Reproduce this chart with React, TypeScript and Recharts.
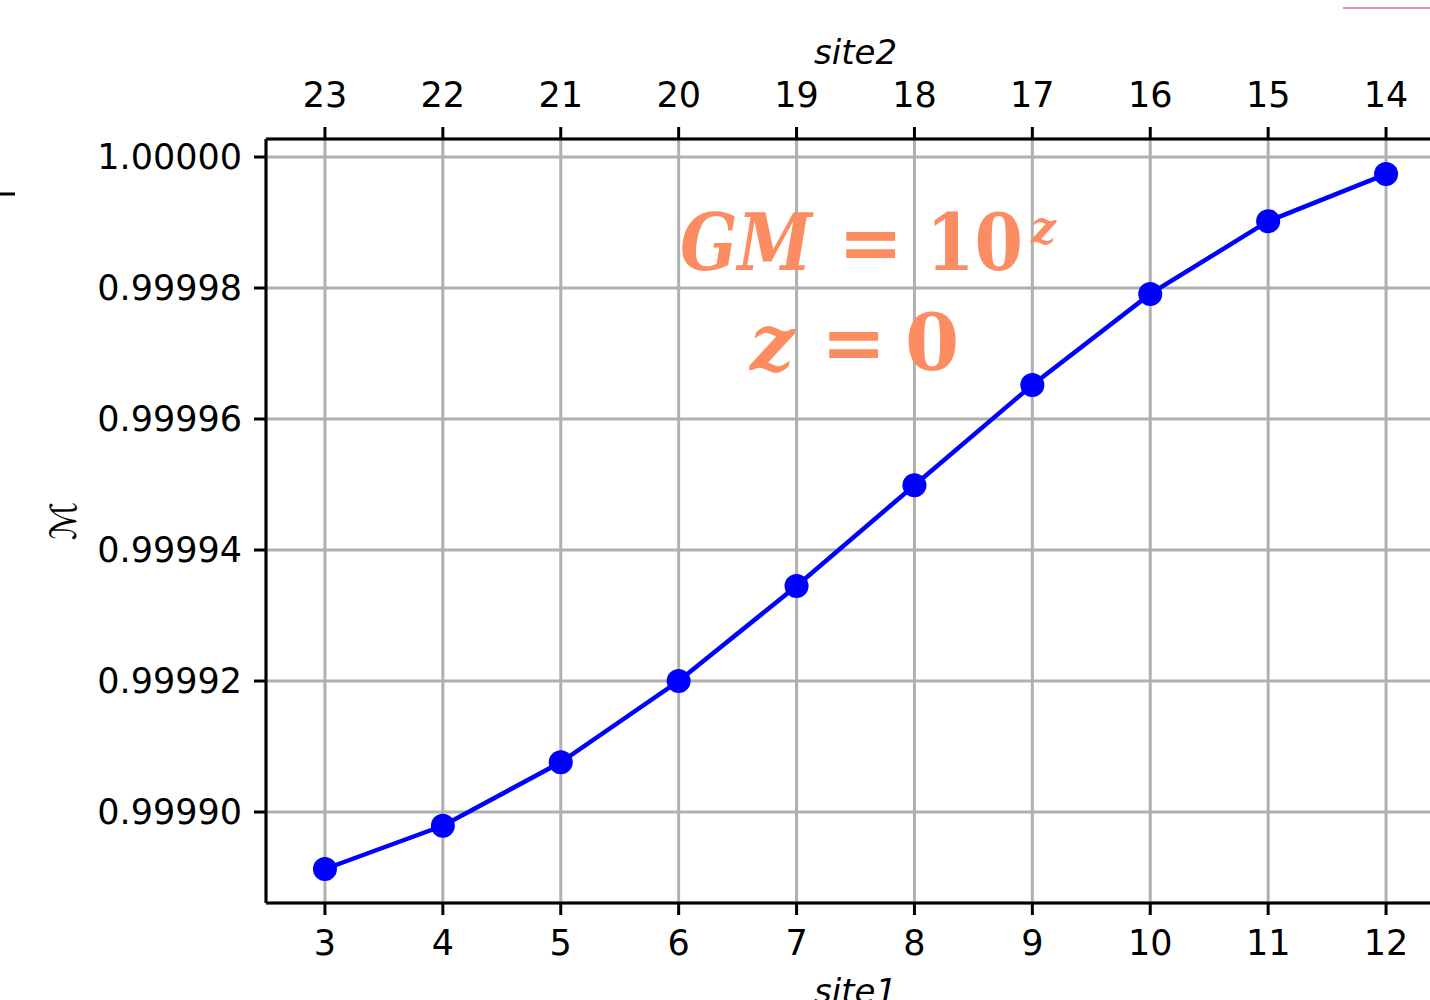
import { LineChart, Line, XAxis, YAxis, CartesianGrid } from 'recharts'

// lattice sizes on the two axes (site2 runs opposite to site1)
const site1 = [3, 4, 5, 6, 7, 8, 9, 10, 11, 12]
const site2 = [23, 22, 21, 20, 19, 18, 17, 16, 15, 14]
const mValues = [
  0.9998913, 0.9998979, 0.9999076, 0.99992, 0.9999345, 0.9999499, 0.9999652, 0.9999791, 0.9999902, 0.9999974,
]
const yTicks = [0.9999, 0.99992, 0.99994, 0.99996, 0.99998, 1.0]

const data = site1.map((s, i) => ({ site1: s, M: mValues[i] }))

const font = 'DejaVu Sans'
const tickStyle = { fontSize: 35, fill: '#000', fontFamily: font }
const titleStyle = { fontSize: 34, fontStyle: 'italic', fill: '#000', fontFamily: font }
const axisStroke = { stroke: '#000', strokeWidth: 3 }
const orange = '#fc8d62'

export default function App() {
  return (
    <div style={{ position: 'absolute', left: 0, top: 0, width: 1430, height: 1000, overflow: 'hidden', background: '#fff' }}>
      <LineChart width={1450} height={1000} data={data} margin={{ top: 0, right: 5, left: 0, bottom: 0 }}>
        <CartesianGrid xAxisId="bottom" stroke="#b0b0b0" strokeWidth={3} />
        <XAxis
          xAxisId="bottom"
          dataKey="site1"
          type="number"
          orientation="bottom"
          domain={[2.5, 12.5]}
          ticks={site1}
          height={97}
          tick={tickStyle}
          tickSize={12}
          tickMargin={15}
          axisLine={axisStroke}
          tickLine={axisStroke}
          label={{ value: 'site1', position: 'insideBottom', offset: -3, style: titleStyle }}
        />
        <XAxis
          xAxisId="top"
          dataKey="site1"
          type="number"
          orientation="top"
          domain={[2.5, 12.5]}
          ticks={site1}
          tickFormatter={(v: number) => String(site2[site1.indexOf(v)])}
          height={139}
          tick={tickStyle}
          tickSize={12}
          tickMargin={20}
          axisLine={axisStroke}
          tickLine={axisStroke}
          label={{ value: 'site2', position: 'insideTop', offset: 40, style: titleStyle }}
        />
        <YAxis
          type="number"
          domain={[0.99988611, 1.00000275]}
          allowDataOverflow
          ticks={yTicks}
          tickFormatter={(v: number) => v.toFixed(5)}
          width={266}
          tick={tickStyle}
          tickSize={12}
          tickMargin={12}
          axisLine={axisStroke}
          tickLine={axisStroke}
        />
        <Line
          xAxisId="bottom"
          dataKey="M"
          stroke="#0000ff"
          strokeWidth={4.5}
          dot={{ r: 12, fill: '#0000ff', stroke: 'none' }}
          activeDot={false}
          isAnimationActive={false}
        />
      </LineChart>
      <svg width={1430} height={1000} style={{ position: 'absolute', left: 0, top: 0, pointerEvents: 'none' }}>
        {/* y-axis title */}
        <text x={76} y={521} transform="rotate(-90 76 521)" textAnchor="middle" fontSize={36} fontFamily={font} fill="#000">
          ℳ
        </text>
        {/* annotation */}
        <g fill={orange} fontFamily="DejaVu Serif" fontWeight="bold" fontSize={78}>
          <text x={680} y={270} fontStyle="italic" textLength={132} lengthAdjust="spacingAndGlyphs">GM</text>
          <text x={838} y={270}>=</text>
          <text x={926} y={270} textLength={97} lengthAdjust="spacingAndGlyphs">10</text>
          <text x={1031} y={243} fontSize={44} fontStyle="italic">z</text>
          <text x={750} y={370} fontStyle="italic">z</text>
          <text x={821} y={370}>=</text>
          <text x={905} y={370}>0</text>
        </g>
        {/* edges of neighbouring panels */}
        <line x1={0} y1={194} x2={15} y2={194} stroke="#000" strokeWidth={3} />
        <line x1={1343} y1={8} x2={1430} y2={8} stroke="#ee8fae" strokeWidth={2} />
      </svg>
    </div>
  )
}
